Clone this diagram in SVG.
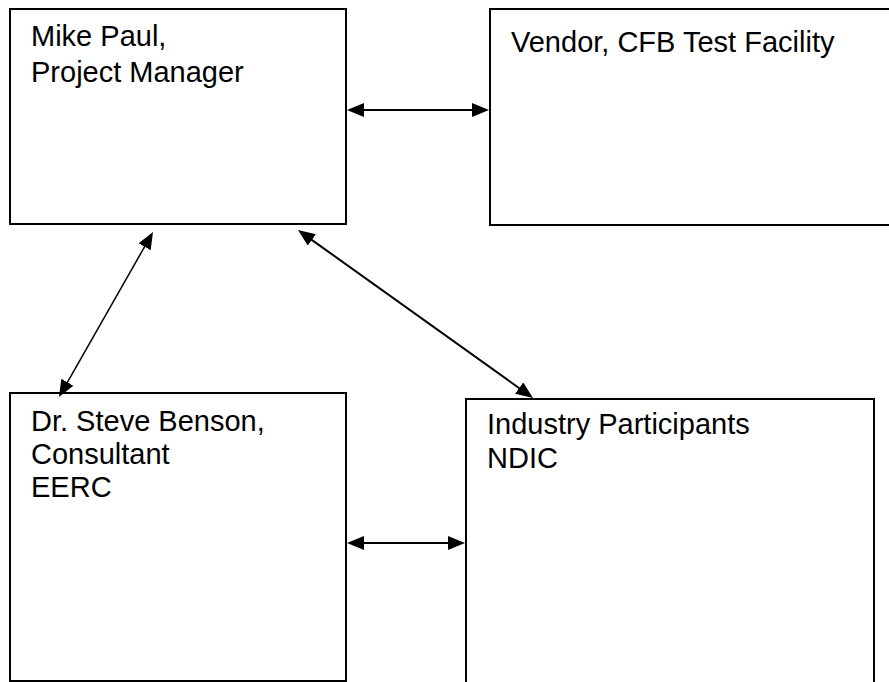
<svg xmlns="http://www.w3.org/2000/svg" width="889" height="682" viewBox="0 0 889 682">
<style>
.box{fill:#fff;stroke:#000;stroke-width:2}
.lbl{font-family:"Liberation Sans",Arial,sans-serif;font-size:29px;fill:#000}
.conn{stroke:#000;stroke-width:2;fill:none;marker-start:url(#ah);marker-end:url(#ah)}
.thin{stroke-width:1.5}
</style>
<defs>
<marker id="ah" viewBox="0 0 17 14" refX="7" refY="7" markerWidth="17" markerHeight="14" markerUnits="userSpaceOnUse" orient="auto-start-reverse">
<path d="M0,0 L17,7 L0,14 z" fill="#000"/>
</marker>
</defs>
<rect width="889" height="682" fill="#fff"/>
<g id="pm">
<rect class="box" x="10" y="9" width="336" height="215"/>
<text class="lbl" x="31" y="46">Mike Paul,</text>
<text class="lbl" x="31" y="82">Project Manager</text>
</g>
<g id="vendor">
<rect class="box" x="490" y="9" width="420" height="216"/>
<text class="lbl" x="511" y="52">Vendor, CFB Test Facility</text>
</g>
<g id="consultant">
<rect class="box" x="10" y="393" width="336" height="288"/>
<text class="lbl" x="31" y="431">Dr. Steve Benson,</text>
<text class="lbl" x="31" y="464">Consultant</text>
<text class="lbl" x="31" y="497">EERC</text>
</g>
<g id="industry">
<rect class="box" x="466" y="399" width="408" height="300"/>
<text class="lbl" x="487" y="434">Industry Participants</text>
<text class="lbl" x="487" y="468">NDIC</text>
</g>
<g id="connectors">
<line class="conn" x1="357" y1="110" x2="479" y2="110"/>
<line class="conn" x1="357" y1="543" x2="455" y2="543"/>
<line class="conn thin" x1="148.05" y1="240.69" x2="63.95" y2="388.31"/>
<line class="conn" x1="306.13" y1="235.82" x2="524.87" y2="392.19"/>
</g>
</svg>
